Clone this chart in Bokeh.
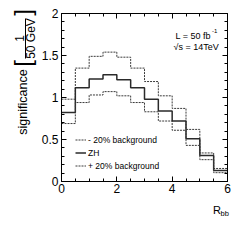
import math
from bokeh.plotting import figure
from bokeh.models import (Label, Legend, LegendItem, LinearAxis, FixedTicker, Arrow)
from bokeh.embed import file_html
from bokeh.resources import INLINE

# ---------------- data ----------------
bin_edges = [0.0, 0.5, 1.0, 1.5, 2.0, 2.5, 3.0, 3.5, 4.0, 4.5, 5.0, 5.5, 6.0]
zh = [0.82, 1.115, 1.22, 1.27, 1.21, 1.115, 0.98, 0.84, 0.72, 0.51, 0.31, 0.13]
minus20_bkg = [0.98, 1.35, 1.49, 1.54, 1.48, 1.35, 1.19, 1.02, 0.87, 0.62, 0.34, 0.155]
plus20_bkg = [0.69, 0.94, 1.03, 1.07, 1.02, 0.94, 0.83, 0.72, 0.61, 0.43, 0.26, 0.105]
series_labels = ["- 20% background", "ZH", "+ 20% background"]
x_ticks = [0, 2, 4, 6]
x_tick_labels = ["0", "2", "4", "6"]
x_minor = [0.5, 1, 1.5, 2.5, 3, 3.5, 4.5, 5, 5.5]
y_ticks = [0, 0.5, 1, 1.5, 2]
y_tick_labels = ["0", "0.5", "1", "1.5", "2"]
y_minor = [round(0.1 * i, 1) for i in range(21)]
X_MIN, X_MAX, Y_MIN, Y_MAX = 0, 6, 0, 2

FONT = "Liberation Sans"
W = H = 241
# plotting box in page pixels
FL, FR, FT, FB = 61, 227, 13, 181


def dx(px):
    return X_MIN + (px - FL) / (FR - FL) * (X_MAX - X_MIN)


def dy(py):
    return Y_MIN + (FB - py) / (FB - FT) * (Y_MAX - Y_MIN)


def text_width(s, size):
    # approximate Helvetica/Liberation Sans advance widths (em units)
    em = {".": 0.278}
    return sum(em.get(c, 0.556) for c in s) * size


p = figure(width=W, height=H, x_range=(dx(0), dx(W)), y_range=(dy(H), dy(0)),
           output_backend="svg", toolbar_location=None,
           min_border=0, min_border_left=0, min_border_right=0,
           min_border_top=0, min_border_bottom=0)
p.xgrid.visible = False
p.ygrid.visible = False
p.outline_line_color = None
p.background_fill_color = "white"
p.border_fill_color = "white"


def step_vals(v):
    return list(v) + [v[-1]]


r_minus = p.step(x=bin_edges, y=step_vals(minus20_bkg), mode="after",
                 line_color="#3a3a3a", line_width=1, line_dash="2 1")
r_zh = p.step(x=bin_edges, y=step_vals(zh), mode="after",
              line_color="#2a2a2a", line_width=1.5)
r_plus = p.step(x=bin_edges, y=step_vals(plus20_bkg), mode="after",
                line_color="#3a3a3a", line_width=1, line_dash="2 1")


def style(ax):
    ax.axis_line_color = "black"
    ax.axis_line_width = 1
    ax.major_tick_line_color = "black"
    ax.minor_tick_line_color = "black"
    ax.major_tick_in = 5
    ax.major_tick_out = 0
    ax.minor_tick_in = 3
    ax.minor_tick_out = 0
    ax.major_label_text_font = FONT
    ax.major_label_text_font_size = "12px"
    ax.major_label_text_color = "black"


xa = p.xaxis[0]
ya = p.yaxis[0]
xa.ticker = FixedTicker(ticks=x_ticks, minor_ticks=x_minor)
ya.ticker = FixedTicker(ticks=y_ticks, minor_ticks=y_minor)
xa.major_label_overrides = {t: l for t, l in zip(x_ticks, x_tick_labels)}
ya.major_label_overrides = {t: "" for t in y_ticks}
xa.fixed_location = Y_MIN
ya.fixed_location = X_MIN
xa.bounds = (X_MIN, X_MAX)
ya.bounds = (Y_MIN, Y_MAX)
style(xa)
style(ya)
xa.major_label_standoff = 2

# y tick labels, placed through the data scales, ending 3px left of the axis
for t, lab in zip(y_ticks, y_tick_labels):
    p.add_layout(Label(x=dx(58 - text_width(lab, 12)), y=t, text=lab,
                       text_font=FONT, text_font_size="12px", text_color="black",
                       text_align="left", text_baseline="middle"))

# mirrored tick axes (top/right) without labels
top = LinearAxis(ticker=FixedTicker(ticks=x_ticks, minor_ticks=x_minor),
                 fixed_location=Y_MAX, bounds=(X_MIN, X_MAX))
right = LinearAxis(ticker=FixedTicker(ticks=y_ticks, minor_ticks=y_minor),
                   fixed_location=X_MAX, bounds=(Y_MIN, Y_MAX))
for ax in (top, right):
    style(ax)
    ax.major_label_text_font_size = "0px"
    ax.major_label_standoff = 0
    ax.major_label_text_alpha = 0
top.major_label_overrides = {t: "" for t in x_ticks}
right.major_label_overrides = {t: "" for t in y_ticks}
p.add_layout(top, "above")
p.add_layout(right, "right")

# legend
legend = Legend(items=[LegendItem(label=series_labels[0], renderers=[r_minus]),
                       LegendItem(label=series_labels[1], renderers=[r_zh]),
                       LegendItem(label=series_labels[2], renderers=[r_plus])],
                location=(75, 70), padding=0, margin=0, spacing=2,
                glyph_width=11, glyph_height=11, label_height=11,
                label_standoff=2, label_text_font=FONT,
                label_text_font_size="8.5px", label_text_color="black",
                border_line_color=None, background_fill_alpha=0)
p.add_layout(legend, "center")

# y-axis title pieces
ylab = dict(text_font=FONT, text_color="black", angle=math.pi / 2,
            text_align="center", text_baseline="middle")
p.add_layout(Label(x=dx(22), y=dy(101.5), text="significance",
                   text_font_size="12.5px", **ylab))
p.add_layout(Label(x=dx(19), y=dy(38), text="1", text_font_size="12px", **ylab))
p.add_layout(Label(x=dx(30.5), y=dy(38), text="50 GeV", text_font_size="12px", **ylab))
p.add_layout(Label(x=dx(22), y=dy(63), text="[", text_font_size="24px", **ylab))
p.add_layout(Label(x=dx(22), y=dy(12), text="]", text_font_size="24px", **ylab))
p.add_layout(Arrow(x_start=dx(25), y_start=dy(18), x_end=dx(25), y_end=dy(58),
                   start=None, end=None, line_color="black", line_width=1))

txt = dict(text_font=FONT, text_color="black", text_align="left",
           text_baseline="alphabetic")
# x-axis title
p.add_layout(Label(x=dx(212.5), y=dy(209.5), text="R", text_font_size="11px", **txt))
p.add_layout(Label(x=dx(220), y=dy(213), text="bb", text_font_size="7.5px", **txt))

# luminosity / energy
p.add_layout(Label(x=dx(175), y=dy(35), text="L = 50 fb", text_font_size="9px", **txt))
p.add_layout(Label(x=dx(211.5), y=dy(30.5), text="-1", text_font_size="6px", **txt))
p.add_layout(Label(x=dx(173), y=dy(46.7), text="\u221as = 14TeV", text_font_size="9px", **txt))

open("out.html", "w").write(file_html(p, INLINE))
